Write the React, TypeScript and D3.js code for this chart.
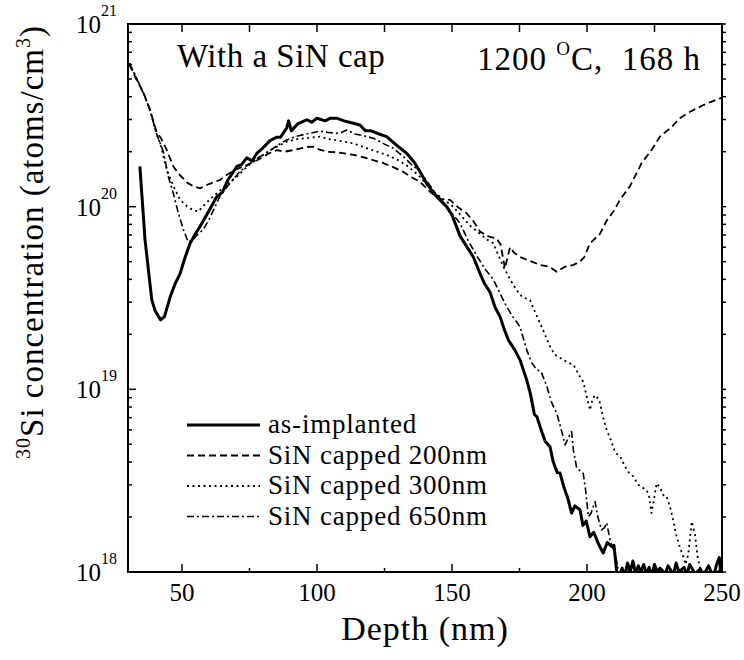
import React from 'react'
import * as d3 from 'd3'

// depth (nm), concentration (atoms/cm3)
const asImplanted: [number, number][] = [
  [34.4, 1.66e20], [36.3, 6.6e19], [38.8, 3.1e19], [40, 2.7e19], [42.1, 2.4e19], [43.5, 2.5e19],
  [45.6, 3.2e19], [47.5, 3.8e19], [49.3, 4.3e19], [51, 5.2e19], [53, 6.3e19], [55, 7.1e19],
  [56.7, 7.8e19], [60, 9.5e19], [62.8, 1.13e20], [65, 1.2e20], [67, 1.4e20], [70.3, 1.66e20],
  [72, 1.7e20], [74, 1.85e20], [76, 1.78e20], [77.7, 1.96e20], [80, 2.1e20], [82.6, 2.3e20],
  [85, 2.4e20], [86.5, 2.4e20], [88.8, 2.7e20], [89.5, 2.95e20], [90.5, 2.6e20], [93, 2.85e20],
  [96.2, 2.99e20], [98, 2.9e20], [100, 3.05e20], [103, 2.95e20], [105, 3.05e20], [107.3, 3.05e20],
  [110, 2.95e20], [112, 2.9e20], [115.9, 2.8e20], [118, 2.6e20], [120, 2.6e20], [123, 2.5e20],
  [125.8, 2.42e20], [129, 2.2e20], [133.2, 1.96e20], [136, 1.75e20], [138.1, 1.56e20],
  [140.6, 1.34e20], [144, 1.15e20], [148, 1e20], [150, 9e19], [153, 6.9e19], [155, 6.2e19],
  [157.9, 5.3e19], [160.4, 4.3e19], [162, 3.8e19], [164.1, 3.4e19], [166, 2.8e19], [167.8, 2.5e19],
  [169.5, 2.1e19], [170.9, 1.86e19], [173.3, 1.64e19], [175.2, 1.45e19], [177.7, 1.12e19],
  [179, 9.5e18], [180.5, 7.3e18], [181.4, 7.1e18], [183, 6.0e18], [184.5, 5.2e18], [186.3, 4.85e18],
  [187.5, 4.0e18], [189, 3.5e18], [190, 3.48e18], [191.5, 2.9e18], [193, 2.5e18], [194.3, 2.1e18],
  [195.5, 2.3e18], [197.4, 2.19e18], [198.5, 1.8e18], [199.7, 1.9e18], [201.1, 1.56e18],
  [202.5, 1.65e18], [204, 1.45e18], [206, 1.27e18], [207.5, 1.45e18], [209.1, 1.38e18],
  [210, 1.4e18], [211, 1.0e18], [212, 0.95e18], [213, 1.05e18], [214, 0.95e18], [215, 1.12e18],
  [216, 1.0e18], [217, 1.15e18], [218, 0.98e18], [219, 1.08e18], [220, 1.0e18], [221, 1.1e18],
  [222, 0.97e18], [223, 1.06e18], [224, 0.95e18], [225, 1.1e18], [226, 1.0e18], [227, 1.05e18],
  [229, 0.98e18], [230, 1.08e18], [232, 0.97e18], [233, 1.12e18], [234, 1.0e18], [236, 1.06e18],
  [237, 0.96e18], [238, 1.1e18], [240, 0.98e18], [242, 1.04e18], [243, 0.95e18], [245, 1.08e18],
  [246, 1.0e18], [247, 0.96e18], [248, 1.1e18], [249, 1.2e18], [249.5, 1.0e18], [250, 1.15e18],
]

const capped200: [number, number][] = [
  [30.5, 6.0e20], [31.5, 5.6e20], [33, 5.0e20], [34.4, 4.6e20], [36, 4.1e20], [38.1, 3.4e20],
  [40.6, 2.55e20], [42, 2.4e20], [44, 2.1e20], [46.8, 1.66e20], [49, 1.5e20], [52, 1.35e20],
  [54, 1.3e20], [56.7, 1.26e20], [60, 1.33e20], [64, 1.4e20], [66.5, 1.49e20], [70, 1.6e20],
  [74, 1.69e20], [78, 1.8e20], [82, 1.95e20], [85.1, 2.04e20], [88, 2.0e20], [92, 2.05e20],
  [96, 2.12e20], [98.6, 2.13e20], [101, 2.05e20], [103.6, 2.0e20], [108, 1.98e20], [113.5, 1.92e20],
  [118, 1.85e20], [124.6, 1.73e20], [128, 1.65e20], [132, 1.55e20], [135, 1.45e20], [138.1, 1.37e20],
  [142, 1.2e20], [146, 1.1e20], [149.3, 1.09e20], [152, 1.0e20], [155.4, 9.2e19], [158, 8.3e19],
  [160.4, 7.3e19], [163, 6.9e19], [166.5, 6.7e19], [168, 6.2e19], [169.6, 4.6e19], [171.5, 6.0e19],
  [173, 5.6e19], [175.2, 5.3e19], [178, 5.1e19], [182.6, 4.8e19], [186, 4.7e19], [188.8, 4.4e19],
  [192, 4.7e19], [195, 4.8e19], [197.4, 5.0e19], [199, 5.3e19], [201.1, 6.3e19], [204.8, 7.1e19],
  [207.3, 8.4e19], [210, 9.5e19], [212.2, 1.09e20], [216, 1.3e20], [220.2, 1.73e20], [224, 2.05e20],
  [227, 2.42e20], [231, 2.7e20], [234.4, 3.05e20], [238, 3.3e20], [243.1, 3.6e20], [246, 3.75e20],
  [249.3, 3.92e20], [250, 3.95e20],
]

const capped300: [number, number][] = [
  [30.5, 6.1e20], [32, 5.5e20], [34.4, 4.6e20], [36, 4.1e20], [38.1, 3.4e20], [40.6, 2.5e20],
  [42, 2.2e20], [44.3, 1.6e20], [46.8, 1.3e20], [49.3, 1.09e20], [52, 1.0e20], [54, 9.6e19],
  [56, 9.4e19], [59, 1.05e20], [62.8, 1.18e20], [66, 1.3e20], [70.3, 1.46e20], [74, 1.65e20],
  [78.9, 1.88e20], [83, 2.05e20], [88.8, 2.27e20], [93, 2.35e20], [97, 2.38e20], [101.1, 2.42e20],
  [104, 2.35e20], [108, 2.3e20], [113.5, 2.22e20], [118, 2.1e20], [125.8, 1.92e20], [130, 1.8e20],
  [134, 1.65e20], [138.1, 1.46e20], [142, 1.25e20], [146, 1.12e20], [150.5, 1.0e20], [154, 8.7e19],
  [157, 7.8e19], [160.4, 7.1e19], [163, 6.6e19], [165.3, 6.3e19], [167, 5.5e19], [169, 4.7e19],
  [171.5, 4.0e19], [173.9, 3.5e19], [176, 3.2e19], [178.9, 3.08e19], [181, 2.6e19], [183.8, 2.1e19],
  [186, 1.75e19], [188, 1.55e19], [191.2, 1.45e19], [193, 1.4e19], [195, 1.36e19], [197, 1.2e19],
  [198.6, 1.1e19], [200, 9e18], [201.1, 7.7e18], [202, 8.8e18], [203, 9.3e18], [204.5, 8.8e18],
  [206, 7.0e18], [207.3, 6.0e18], [209, 5.2e18], [210.5, 4.5e18], [212.2, 4.3e18], [214, 3.8e18],
  [215.5, 3.5e18], [217.2, 3.33e18], [219, 3.0e18], [220.5, 2.9e18], [222.1, 2.81e18], [223, 2.6e18],
  [223.9, 2.1e18], [225, 2.6e18], [225.8, 3.06e18], [227, 2.9e18], [228.5, 2.6e18], [229.5, 2.59e18],
  [231, 2.2e18], [231.9, 1.93e18], [233, 1.6e18], [234.5, 1.35e18], [235.7, 1.21e18], [236.5, 1.1e18],
  [237.5, 1.25e18], [238.8, 1.89e18], [240, 1.6e18], [241, 1.2e18], [241.9, 1.05e18], [243, 1.0e18],
  [244.3, 1.02e18], [245, 0.97e18], [246.5, 1.02e18], [248, 0.98e18], [249, 1.03e18], [250, 0.99e18],
]

const capped650: [number, number][] = [
  [30.5, 6.1e20], [32, 5.5e20], [34.4, 4.6e20], [36, 4.1e20], [38.1, 3.4e20], [40.6, 2.5e20],
  [43.1, 2.0e20], [45, 1.45e20], [46.8, 1.18e20], [48.5, 9.4e19], [50.5, 7.5e19], [52.3, 6.4e19],
  [54, 6.6e19], [56, 7.1e19], [57.9, 7.5e19], [60, 8.5e19], [62, 9.8e19], [64, 1.14e20],
  [67, 1.3e20], [71.5, 1.56e20], [75, 1.72e20], [78, 1.85e20], [81.4, 1.96e20], [85, 2.15e20],
  [88.8, 2.32e20], [92, 2.42e20], [96, 2.5e20], [101.1, 2.59e20], [104, 2.55e20], [107.3, 2.52e20],
  [109, 2.55e20], [111, 2.63e20], [114, 2.5e20], [117, 2.45e20], [120.9, 2.37e20], [125, 2.2e20],
  [128, 2.1e20], [132, 1.88e20], [135, 1.7e20], [138.1, 1.56e20], [142, 1.3e20], [145.6, 1.09e20],
  [149, 9.6e19], [153, 8.1e19], [156, 6.5e19], [159.8, 5.2e19], [162.5, 4.5e19], [165.3, 4.0e19],
  [168, 3.3e19], [170.2, 2.84e19], [172.5, 2.5e19], [175.2, 2.2e19], [177.7, 1.64e19], [179.5, 1.4e19],
  [181.4, 1.28e19], [183, 1.25e19], [185, 1.05e19], [187, 8.4e18], [188.8, 7.4e18], [190.5, 6.0e18],
  [191.9, 4.97e18], [193, 5.4e18], [194.3, 5.86e18], [195, 4.6e18], [196.2, 3.7e18], [198.6, 3.47e18],
  [199.5, 2.8e18], [200.5, 2.01e18], [201.5, 2.1e18], [203, 2.43e18], [204, 2.0e18], [205.4, 1.7e18],
  [206.5, 1.75e18], [207.3, 1.86e18], [208.5, 1.5e18], [209.8, 1.32e18], [211, 1.15e18],
  [211.7, 1.0e18], [213, 0.95e18],
]

const seriesNames = ['as-implanted', 'SiN capped 200nm', 'SiN capped 300nm', 'SiN capped 650nm']
const xMajorTicks = [50, 100, 150, 200, 250]
const xMinorTicks = [75, 125, 175, 225]
const yMajorTicks = [1e18, 1e19, 1e20, 1e21]
const yExponents = ['18', '19', '20', '21']

const FONT = 'Liberation Serif'

const App = () => {
  const W = 744
  const H = 660
  const margin = { top: 24, right: 22, bottom: 88, left: 128 }
  const x0 = margin.left
  const x1 = W - margin.right
  const y0 = margin.top
  const y1 = H - margin.bottom

  const x = d3.scaleLinear().domain([30, 250]).range([x0, x1])
  const y = d3.scaleLog().domain([1e18, 1e21]).range([y1, y0])

  const line = d3
    .line<[number, number]>()
    .x((d) => x(d[0]))
    .y((d) => y(d[1]))

  const styles = [
    { data: asImplanted, width: 3, dash: '' },
    { data: capped200, width: 1.8, dash: '7,4' },
    { data: capped300, width: 1.8, dash: '2,3.5' },
    { data: capped650, width: 1.6, dash: '7,3,2,3' },
  ]

  const yMinor: number[] = []
  yMajorTicks.slice(0, 3).forEach((p) => {
    for (let k = 2; k <= 9; k++) yMinor.push(p * k)
  })

  const topTicks = d3.range(50, 251, 25)

  return (
    <svg width={W} height={H} style={{ position: 'absolute', left: 0, top: 0 }}>
      <style>{`text, tspan { font-family: 'Liberation Serif', serif; }`}</style>
      <defs>
        <clipPath id="plot-clip">
          <rect x={x0} y={y0} width={x1 - x0} height={y1 - y0} />
        </clipPath>
      </defs>

      {/* curves */}
      <g clipPath="url(#plot-clip)" fill="none" stroke="#000">
        {styles.map((s, i) => (
          <path
            key={i}
            d={line(s.data) || ''}
            strokeWidth={s.width}
            strokeDasharray={s.dash || undefined}
            strokeLinejoin="round"
          />
        ))}
      </g>

      {/* frame */}
      <rect x={x0} y={y0} width={x1 - x0} height={y1 - y0} fill="none" stroke="#000" strokeWidth={2} />

      {/* ticks */}
      <g stroke="#000" strokeWidth={1.5}>
        {xMajorTicks.map((t) => (
          <line key={'xb' + t} x1={x(t)} x2={x(t)} y1={y1} y2={y1 - 8} />
        ))}
        {xMinorTicks.map((t) => (
          <line key={'xm' + t} x1={x(t)} x2={x(t)} y1={y1} y2={y1 - 4} />
        ))}
        {topTicks.map((t) => (
          <line key={'xt' + t} x1={x(t)} x2={x(t)} y1={y0} y2={y0 + 8} />
        ))}
        {yMajorTicks.map((t) => (
          <line key={'yl' + t} x1={x0} x2={x0 + 8} y1={y(t)} y2={y(t)} />
        ))}
        {yMinor.map((t) => (
          <line key={'ym' + t} x1={x0} x2={x0 + 4} y1={y(t)} y2={y(t)} />
        ))}
        {yMajorTicks.concat(yMinor).map((t) => (
          <line key={'yr' + t} x1={x1} x2={x1 + 4} y1={y(t)} y2={y(t)} />
        ))}
      </g>

      {/* x tick labels */}
      {xMajorTicks.map((t) => (
        <text key={t} x={x(t)} y={y1 + 29} fontSize={25} textAnchor="middle" fontFamily={FONT}>
          {t}
        </text>
      ))}

      {/* y tick labels */}
      {yMajorTicks.map((t, i) => (
        <text key={t} x={x0 - 11} y={y(t) + 9} fontSize={25} textAnchor="end" fontFamily={FONT}>
          10
          <tspan dy={-17} fontSize={16}>
            {yExponents[i]}
          </tspan>
        </text>
      ))}

      {/* axis titles */}
      <text x={(x0 + x1) / 2} y={640} fontSize={34} letterSpacing={1} textAnchor="middle" fontFamily={FONT}>
        Depth (nm)
      </text>
      <text
        transform="translate(43,242) rotate(-90)"
        fontSize={33}
        letterSpacing={1}
        textAnchor="middle"
        fontFamily={FONT}
      >
        <tspan fontSize={20} dy={-13}>
          30
        </tspan>
        <tspan dy={13}>Si concentration (atoms/cm</tspan>
        <tspan fontSize={20} dy={-13}>
          3
        </tspan>
        <tspan dy={13}>)</tspan>
      </text>

      {/* annotations */}
      <text x={177} y={67} fontSize={33} letterSpacing={0.5} fontFamily={FONT}>
        With a SiN cap
      </text>
      <text x={477} y={70} fontSize={33} letterSpacing={1} fontFamily={FONT} style={{ whiteSpace: 'pre' }}>
        {'1200 '}
        <tspan dy={-15} fontSize={19}>
          O
        </tspan>
        <tspan dy={15}>{'C,  168 h'}</tspan>
      </text>

      {/* legend */}
      {seriesNames.map((name, i) => {
        const ly = 425 + i * 30.5
        return (
          <g key={name}>
            <line
              x1={187}
              x2={260}
              y1={ly}
              y2={ly}
              stroke="#000"
              strokeWidth={styles[i].width}
              strokeDasharray={styles[i].dash || undefined}
            />
            <text x={268} y={ly + 8} fontSize={27} letterSpacing={0.8} fontFamily={FONT}>
              {name}
            </text>
          </g>
        )
      })}
    </svg>
  )
}

export default App
